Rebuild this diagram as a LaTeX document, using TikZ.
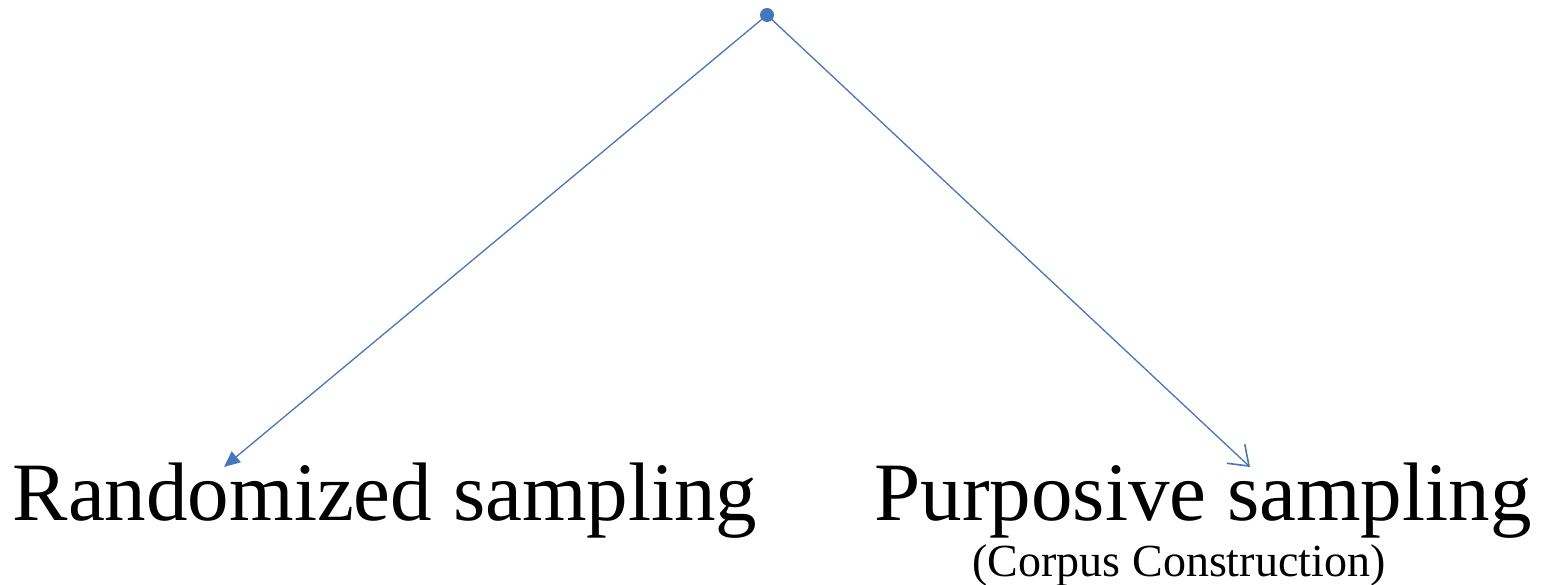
\documentclass[tikz,border=0pt]{standalone}
\usepackage{fontspec}
\setmainfont{Liberation Serif}
\usetikzlibrary{arrows.meta}
\definecolor{lineblue}{RGB}{70,118,190}
\begin{document}
\begin{tikzpicture}[x=1pt,y=-1pt,
  conn/.style={draw=lineblue,line width=1.3pt},
  bigtext/.style={anchor=base,inner sep=0pt,font=\fontsize{83}{90}\selectfont},
  smalltext/.style={anchor=base,inner sep=0pt,font=\fontsize{46}{50}\selectfont}]
\useasboundingbox (0,0) rectangle (1549,585);
\fill[lineblue] (767,15) circle (7);
\coordinate (root) at (767,15);
\node[bigtext] (rand) at (385,520) {Randomized sampling};
\node[bigtext] (purp) at (1203,520) {Purposive sampling};
\node[smalltext] (corpus) at (1179,576) {(Corpus Construction)};
\coordinate (lend) at (224,467);
\coordinate (rend) at (1250,467);
\draw[conn,-{Triangle[length=16pt,width=14pt]}] (root) -- (lend);
\draw[conn,-{Straight Barb[length=18pt,width=26pt,line width=1.6pt]}] (root) -- (rend);
\end{tikzpicture}
\end{document}
